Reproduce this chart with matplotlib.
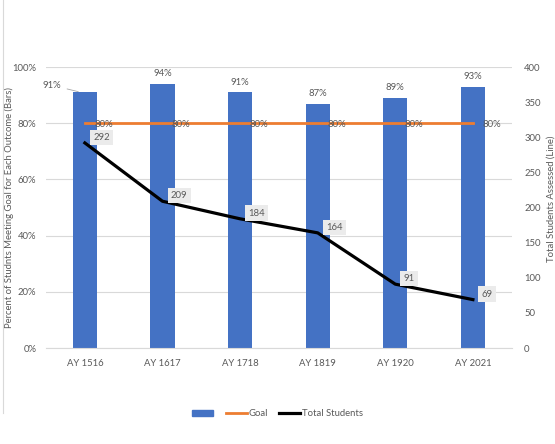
import matplotlib.pyplot as plt
import matplotlib.ticker as mtick
from matplotlib.lines import Line2D
from matplotlib.patches import Patch

plt.rcParams["font.family"] = ["Lato", "DejaVu Sans"]

years = ["AY 1516", "AY 1617", "AY 1718", "AY 1819", "AY 1920", "AY 2021"]
pct_meeting = [91, 94, 91, 87, 89, 93]
goal = [80, 80, 80, 80, 80, 80]
total_students = [292, 209, 184, 164, 91, 69]

txt = "#595959"
fig = plt.figure(figsize=(5.55, 4.44), dpi=100)
ax = fig.add_axes([0.083, 0.216, 0.839, 0.633])
ax2 = ax.twinx()

x = range(len(years))
ax.bar(x, pct_meeting, width=0.31, color="#4472C4", zorder=2)
ax.plot(x, goal, color="#ED7D31", lw=2, zorder=3)

for i, v in enumerate(pct_meeting):
    if i == 0:
        ax.annotate(f"{v}%", xy=(i - 0.05, v), xytext=(i - 0.42, v + 2.5),
                    ha="center", va="center", fontsize=6.8, color=txt,
                    arrowprops=dict(arrowstyle="-", color="#a6a6a6", lw=0.6))
    else:
        ax.text(i, v + 2, f"{v}%", ha="center", va="bottom", fontsize=6.8, color=txt)
for i, g in enumerate(goal):
    ax.text(i + 0.12, g - 0.5, f"{g}%", ha="left", va="center", fontsize=6.8, color=txt, zorder=4)

ax.set_xlim(-0.5, len(years) - 0.5)
ax.set_ylim(0, 100)
ax.yaxis.set_major_locator(mtick.MultipleLocator(20))
ax.yaxis.set_major_formatter(mtick.PercentFormatter(decimals=0))
ax.set_xticks(list(x))
ax.set_xticklabels(years)
ax.grid(axis="y", color="#d9d9d9", lw=0.8, zorder=0)
ax.set_axisbelow(True)
ax.set_ylabel("Percent of Studnts Meeting Goal for Each Outcome (Bars)", fontsize=6.8, color=txt)
ax.yaxis.set_label_coords(-0.068, 0.5)

ax2.plot(x, total_students, color="black", lw=2.3, zorder=3)
for i, v in enumerate(total_students):
    ax2.annotate(str(v), xy=(i, v), xytext=(6, 4), textcoords="offset points",
                 ha="left", va="center", fontsize=6.8, color=txt,
                 bbox=dict(boxstyle="square,pad=0.35", fc="#ebebeb", ec="none"))
ax2.set_ylim(0, 400)
ax2.yaxis.set_major_locator(mtick.MultipleLocator(50))
ax2.set_ylabel("Total Students Assessed (Line)", fontsize=6.8, color=txt)
ax2.yaxis.set_label_coords(1.075, 0.53)

for a in (ax, ax2):
    for s in a.spines.values():
        s.set_visible(False)
    a.tick_params(length=0, labelsize=6.8, labelcolor=txt)
ax.spines["bottom"].set_visible(True)
ax.spines["bottom"].set_color("#d9d9d9")
ax.tick_params(axis="x", pad=8)
ax.tick_params(axis="y", pad=7)
ax2.tick_params(axis="y", pad=9)

handles = [Patch(color="#4472C4"),
           Line2D([], [], color="#ED7D31", lw=2),
           Line2D([], [], color="black", lw=2.3)]
fig.legend(handles, ["", "Goal", "Total Students"], loc="center",
           bbox_to_anchor=(0.5, 0.068), ncol=3, frameon=False, fontsize=6.8,
           labelcolor=txt, handlelength=2.2, handletextpad=0.2, columnspacing=1.2)

fig.add_artist(Line2D([0.006, 0.006], [0.07, 1.0], color="#d9d9d9", lw=0.8))

fig.savefig("out.png", dpi=100)
